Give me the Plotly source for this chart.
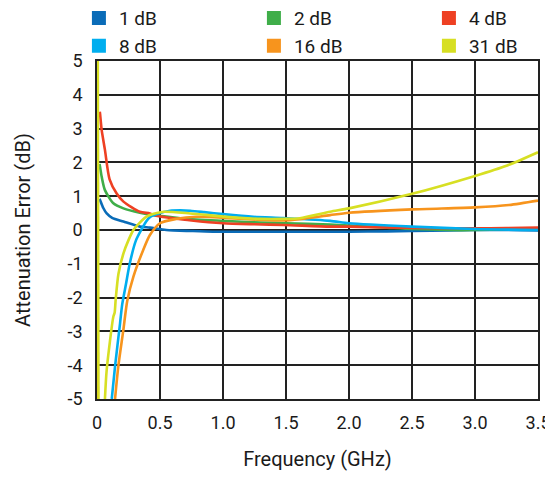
import plotly.graph_objects as go

# ---- data ----
labels = ["1 dB", "2 dB", "4 dB", "8 dB", "16 dB", "31 dB"]
colors = ["#0a6cb8", "#3fae49", "#ee4023", "#00aeef", "#f7941d", "#d7df23"]

f_1db = [0.02, 0.024, 0.05, 0.077, 0.12, 0.21, 0.34, 0.42, 0.55, 0.75, 0.92, 1.2, 1.45, 1.7, 2.0, 2.3, 2.5, 2.8, 3.0, 3.25, 3.5]
v_1db = [0.92, 0.89, 0.65, 0.49, 0.36, 0.25, 0.10, 0.07, 0.0, -0.03, -0.05, -0.05, -0.05, -0.05, -0.05, -0.04, -0.03, -0.01, 0.0, 0.0, -0.01]

f_2db = [0.02, 0.024, 0.037, 0.063, 0.13, 0.21, 0.34, 0.45, 0.55, 0.7, 1.0, 1.3, 1.5, 1.85, 2.0, 2.3, 2.5, 2.8, 3.0, 3.25, 3.5]
v_2db = [1.95, 1.87, 1.58, 1.18, 0.79, 0.64, 0.51, 0.44, 0.40, 0.33, 0.27, 0.22, 0.20, 0.16, 0.13, 0.07, 0.03, 0.0, 0.0, 0.02, 0.03]

f_4db = [0.022, 0.024, 0.037, 0.063, 0.10, 0.156, 0.21, 0.34, 0.42, 0.47, 0.58, 0.75, 1.0, 1.25, 1.48, 1.85, 2.0, 2.5, 3.0, 3.25, 3.5]
v_4db = [3.5, 3.45, 2.96, 2.37, 1.50, 1.08, 0.84, 0.54, 0.49, 0.42, 0.36, 0.28, 0.20, 0.17, 0.15, 0.10, 0.10, 0.06, 0.05, 0.06, 0.07]

f_8db = [0.117, 0.143, 0.183, 0.20, 0.23, 0.26, 0.31, 0.39, 0.42, 0.5, 0.58, 0.66, 0.74, 0.85, 1.0, 1.24, 1.48, 1.85, 2.0, 2.5, 3.0, 3.5]
v_8db = [-5.0, -4.04, -2.76, -2.2, -1.6, -0.99, -0.30, 0.25, 0.38, 0.50, 0.57, 0.58, 0.57, 0.53, 0.47, 0.39, 0.35, 0.27, 0.20, 0.10, 0.03, 0.0]

f_16db = [0.143, 0.169, 0.209, 0.24, 0.289, 0.367, 0.42, 0.5, 0.63, 0.79, 1.05, 1.3, 1.48, 1.61, 1.85, 2.0, 2.5, 3.0, 3.27, 3.5]
v_16db = [-5.0, -4.04, -2.96, -2.1, -1.38, -0.59, -0.15, 0.20, 0.33, 0.39, 0.35, 0.30, 0.28, 0.32, 0.44, 0.51, 0.61, 0.67, 0.74, 0.87]

f_31db = [0.063, 0.077, 0.13, 0.14, 0.148, 0.17, 0.21, 0.25, 0.289, 0.34, 0.39, 0.45, 0.53, 0.74, 1.05, 1.3, 1.48, 1.61, 1.85, 2.0, 2.5, 3.0, 3.25, 3.5]
v_31db = [-5.0, -4.14, -2.56, -2.45, -2.07, -1.3, -0.69, -0.30, 0.0, 0.22, 0.39, 0.48, 0.54, 0.49, 0.38, 0.33, 0.33, 0.35, 0.54, 0.64, 1.07, 1.60, 1.90, 2.30]

# near-DC spikes (run off the top and bottom of the scale)
f_spike = {"8 dB": [0.003, 0.006], "16 dB": [0.002, 0.005], "31 dB": [0.006, 0.012]}
v_spike = {"8 dB": [6.0, -6.0], "16 dB": [6.0, -6.0], "31 dB": [6.0, -6.0]}

x_tickvals = [0, 0.5, 1.0, 1.5, 2.0, 2.5, 3.0, 3.5]
x_ticktext = ["0", "0.5", "1.0", "1.5", "2.0", "2.5", "3.0", "3.5"]
y_tickvals = [5, 4, 3, 2, 1, 0, -1, -2, -3, -4, -5]
y_ticktext = ["5", "4", "3", "2", "1", "0", "-1", "-2", "-3", "-4", "-5"]

series_f = [f_1db, f_2db, f_4db, f_8db, f_16db, f_31db]
series_v = [v_1db, v_2db, v_4db, v_8db, v_16db, v_31db]

FONT = "Roboto, Liberation Sans, sans-serif"

fig = go.Figure()
for lab, col, fx, vy in zip(labels, colors, series_f, series_v):
    if lab in f_spike:
        fig.add_trace(go.Scatter(x=f_spike[lab], y=v_spike[lab], mode="lines",
                                 line=dict(color=col, width=2.6),
                                 showlegend=False, hoverinfo="skip"))
    fig.add_trace(go.Scatter(x=fx, y=vy, mode="lines",
                             line=dict(color=col, width=2.6, shape="spline", smoothing=0.7),
                             showlegend=False, hoverinfo="skip"))
# legend entries (square swatches)
for lab, col in zip(labels, colors):
    fig.add_trace(go.Scatter(x=[None], y=[None], mode="markers", name=lab,
                             marker=dict(symbol="square", size=14, color=col)))

fig.update_layout(
    width=553, height=479, autosize=False,
    margin=dict(l=89, r=23, t=53, b=88, autoexpand=False),
    paper_bgcolor="white", plot_bgcolor="white",
    font=dict(family=FONT, size=18, color="#1a1a1a"),
    legend=dict(orientation="h", x=-0.041, xanchor="left", y=1.183, yanchor="top",
                entrywidth=130, entrywidthmode="pixels", font=dict(size=19),
                bgcolor="rgba(0,0,0,0)", tracegroupgap=0),
    xaxis=dict(range=[0, 3.5], tickvals=x_tickvals, ticktext=x_ticktext,
               showgrid=True, gridcolor="#222", gridwidth=1.6,
               zeroline=False, showline=True, linecolor="#222", linewidth=1.6, mirror=True,
               ticks="", ticklabelstandoff=7, tickfont=dict(size=18),
               title=dict(text="Frequency (GHz)", font=dict(size=20), standoff=20)),
    yaxis=dict(range=[-5, 5], tickvals=y_tickvals, ticktext=y_ticktext,
               showgrid=True, gridcolor="#222", gridwidth=1.6,
               zeroline=True, zerolinecolor="#222", zerolinewidth=1.6,
               showline=True, linecolor="#222", linewidth=1.6, mirror=True,
               ticks="", ticklabelstandoff=9, tickfont=dict(size=18),
               title=dict(text="Attenuation Error (dB)", font=dict(size=20), standoff=32)),
)

fig.write_html("out.html")
